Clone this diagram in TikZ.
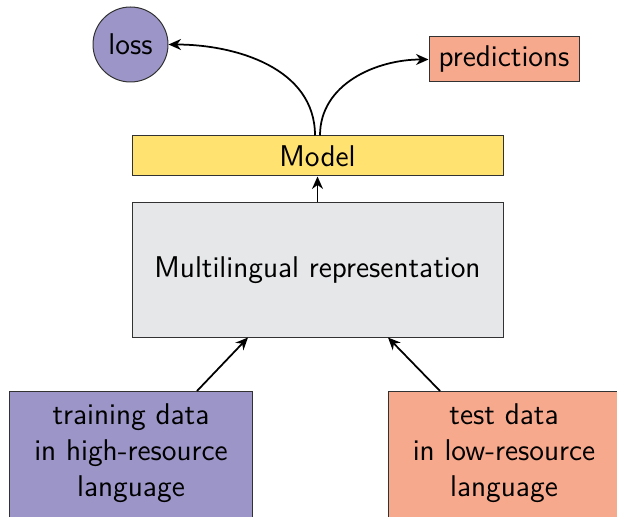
\documentclass[tikz,border=0pt]{standalone}
\usepackage{xcolor}
\usepackage{tikz}
\usetikzlibrary{arrows.meta, positioning}
\definecolor{lossColor}{RGB}{156, 149, 200}
\definecolor{predColor}{RGB}{247, 169, 141}
\definecolor{modelColor}{RGB}{255, 226, 112}
\definecolor{reprColor}{RGB}{230, 231, 233}
\definecolor{edgeColor}{RGB}{50, 50, 50}

\begin{document}
\begin{tikzpicture}[
    x=0.4pt, y=-0.4pt,
    font=\sffamily\fontsize{12}{14.4}\selectfont,
    block/.style={
        rectangle,
        draw=edgeColor,
        fill=#1,
        line width=0.4pt,
        inner sep=0pt
    },
    data/.style={
        block=#1,
        minimum width=97.2pt,
        anchor=north,
        align=center,
        inner ysep=5pt,
        text depth=24pt
    },
    arrow/.style={-{Stealth[length=5pt, width=4.4pt]}, line width=0.7pt, black}
]
    \useasboundingbox (0,0) rectangle (617,517);

    % Outputs
    \node[circle, draw=edgeColor, fill=lossColor, minimum size=30pt, inner sep=0pt]
          (loss) at (130.5,44.5) {loss};
    \node[block=predColor, minimum width=60pt, minimum height=18pt]
          (pred) at (504,59.5) {predictions};

    % Model and representation
    \node[block=modelColor, minimum width=148.4pt, minimum height=16pt]
          (model) at (317.5,156) {Model};
    \node[block=reprColor, minimum width=148.4pt, minimum height=53.6pt]
          (repr) at (317.5,270) {Multilingual representation};

    % Data
    \node[data=lossColor] (train) at (131,391) {training data\\in high-resource\\language};
    \node[data=predColor, minimum width=92.8pt] (test) at (504,391) {test data\\in low-resource\\language};

    % Connections
    \draw[arrow] (train.north -| 197,0) -- (repr.south -| 248,0);
    \draw[arrow] (test.north -| 440,0) -- (repr.south -| 388,0);
    \draw[arrow] (repr) -- (model);
    \draw[arrow] ([xshift=-1pt]model.north) to[out=90, in=0] (loss.east);
    \draw[arrow] ([xshift=1pt]model.north) to[out=90, in=180] (pred.west);

\end{tikzpicture}
\end{document}
